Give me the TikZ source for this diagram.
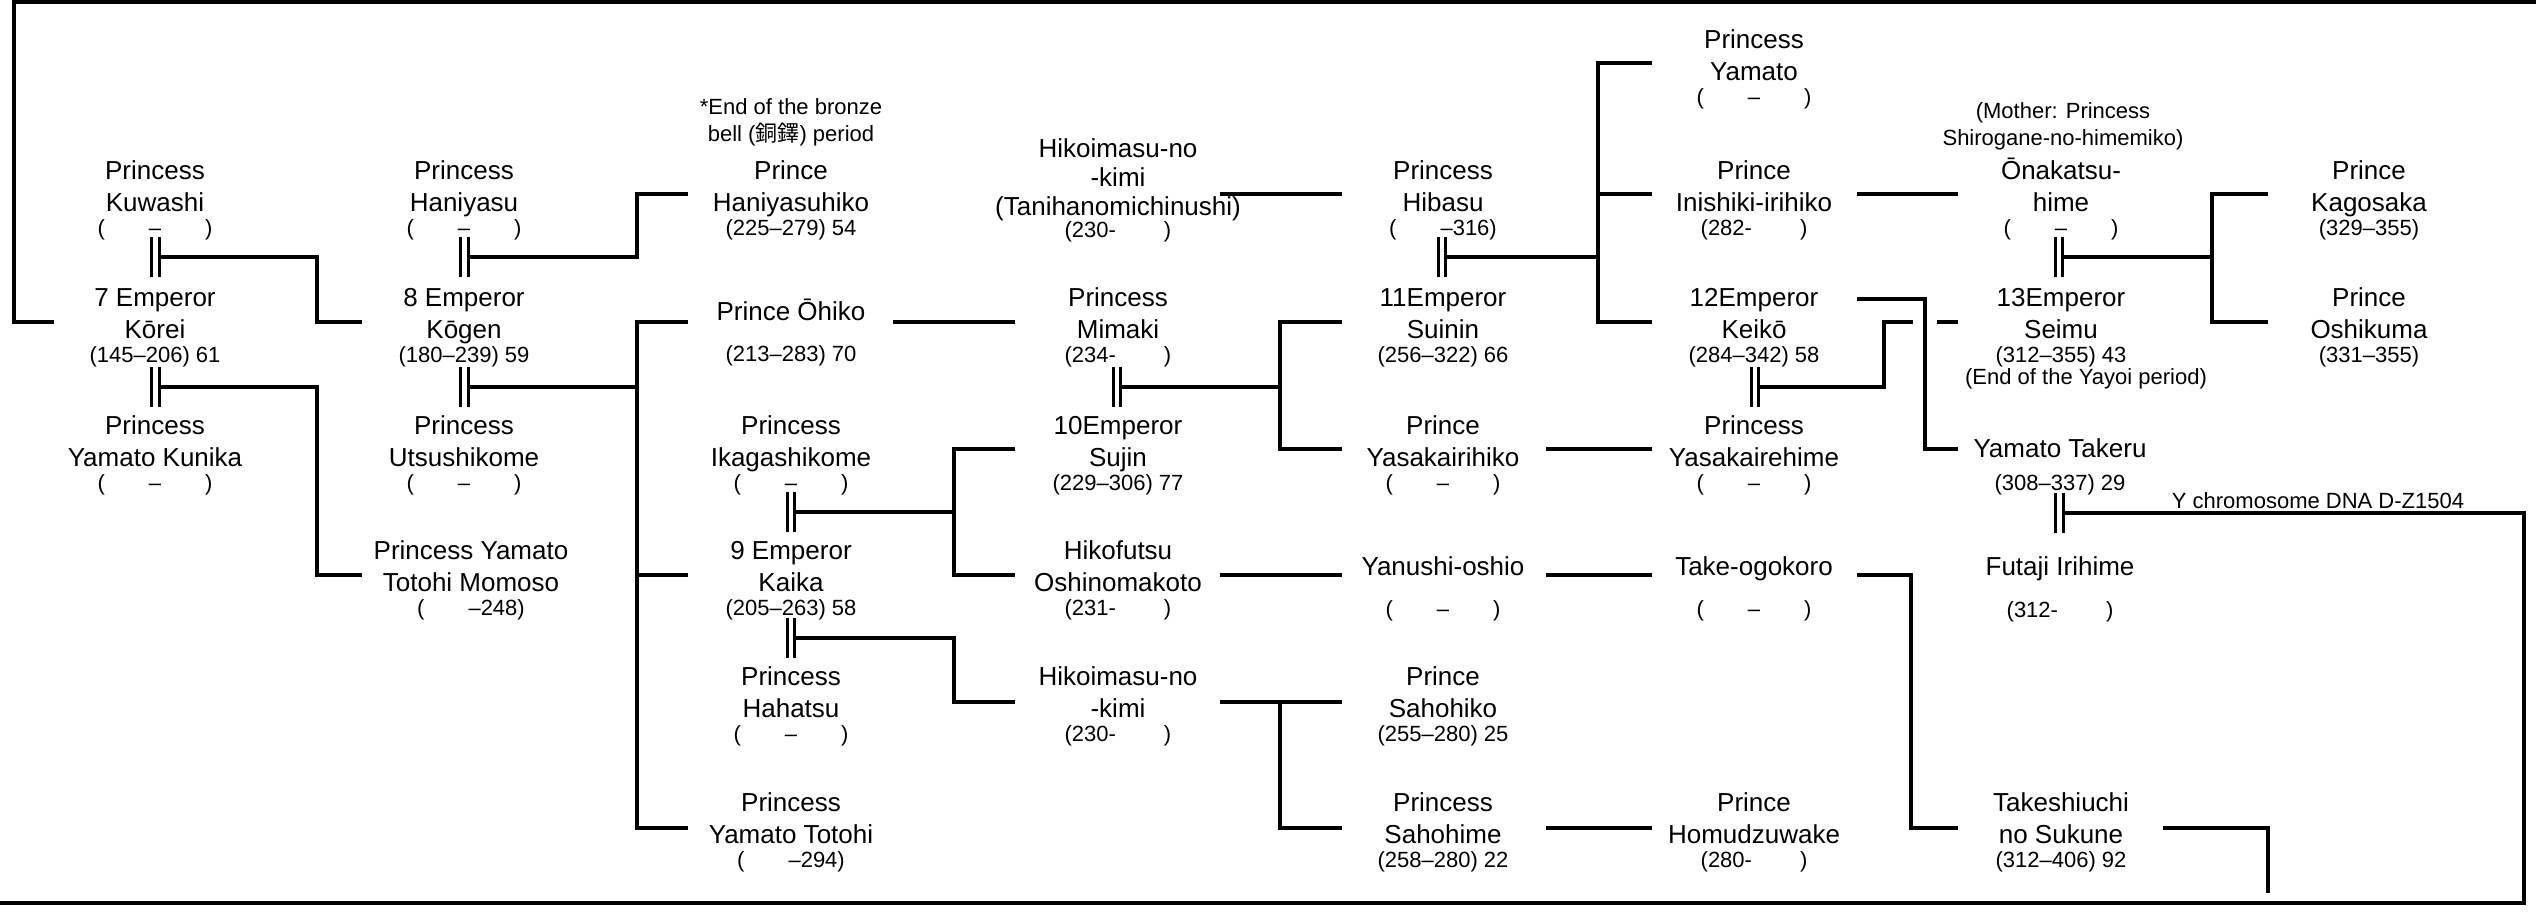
\documentclass[tikz,border=0pt]{standalone}
\usepackage{fontspec}
\setmainfont{Liberation Sans}
\newfontfamily\cjkfont{Noto Sans CJK JP}
\newcommand\nodates{(\hspace{44pt}–\hspace{44pt})}
\newcommand\famnode[6]{%
  \node[nm] (#1-a) at (#2,#3) {#4};
  \node[nm] (#1-b) at ({#2},{#3+32}) {#5};
  \node[yr] (#1-c) at ({#2},{#3+57}) {#6};}
\tikzset{
  wed/.pic={\draw[bar] (-3.75,-20) -- (-3.75,20) (3.75,-20) -- (3.75,20);}
}
\begin{document}
\begin{tikzpicture}[x=1pt,y=-1pt,
  nm/.style={font=\fontsize{26}{30}\selectfont, inner sep=0pt, text height=18.6pt, text depth=0pt},
  yr/.style={font=\fontsize{22}{26}\selectfont, inner sep=0pt, text height=16pt, text depth=0pt},
  ln/.style={line width=3.8pt},
  frame/.style={line width=4.2pt},
  bar/.style={line width=2.8pt}]
\useasboundingbox (0,0) rectangle (2536,913);

% ---------- people ----------
\famnode{kuwashi}{155}{170}{Princess}{Kuwashi}{\nodates}
\famnode{korei}{155}{297}{7 Emperor}{Kōrei}{(145–206) 61}
\famnode{kunika}{155}{425}{Princess}{Yamato Kunika}{\nodates}

\famnode{haniyasu}{464}{170}{Princess}{Haniyasu}{\nodates}
\famnode{kogen}{464}{297}{8 Emperor}{Kōgen}{(180–239) 59}
\famnode{utsushi}{464}{425}{Princess}{Utsushikome}{\nodates}
\famnode{momoso}{471}{550}{Princess Yamato}{Totohi Momoso}{(\hspace{44pt}–248)}

\node[yr] (bronze-a) at (791,106) {*End of the bronze};
\node[yr] (bronze-b) at (791,133) {bell ({\cjkfont 銅鐸}) period};
\famnode{hanihiko}{791}{170}{Prince}{Haniyasuhiko}{(225–279) 54}
\node[nm] (ohiko-a) at (791,311) {Prince Ōhiko};
\node[yr] (ohiko-c) at (791,353) {(213–283) 70};
\famnode{ikaga}{791}{425}{Princess}{Ikagashikome}{\nodates}
\famnode{kaika}{791}{550}{9 Emperor}{Kaika}{(205–263) 58}
\famnode{hahatsu}{791}{676}{Princess}{Hahatsu}{\nodates}
\famnode{totohi}{791}{802}{Princess}{Yamato Totohi}{(\hspace{44pt}–294)}

\node[nm] (hikoU-a) at (1118,148) {Hikoimasu-no};
\node[nm] (hikoU-b) at (1118,177) {-kimi};
\node[nm] (hikoU-d) at (1118,206) {(Tanihanomichinushi)};
\node[yr] (hikoU-c) at (1118,229) {(230-\hspace{48pt})};
\famnode{mimaki}{1118}{297}{Princess}{Mimaki}{(234-\hspace{48pt})}
\famnode{sujin}{1118}{425}{10Emperor}{Sujin}{(229–306) 77}
\famnode{hikofutsu}{1118}{550}{Hikofutsu}{Oshinomakoto}{(231-\hspace{48pt})}
\famnode{hikoL}{1118}{676}{Hikoimasu-no}{-kimi}{(230-\hspace{48pt})}

\famnode{hibasu}{1443}{170}{Princess}{Hibasu}{(\hspace{44pt}–316)}
\famnode{suinin}{1443}{297}{11Emperor}{Suinin}{(256–322) 66}
\famnode{yasakaM}{1443}{425}{Prince}{Yasakairihiko}{\nodates}
\node[nm] (yanushi-a) at (1443,566) {Yanushi-oshio};
\node[yr] (yanushi-c) at (1443,608) {\nodates};
\famnode{sahohiko}{1443}{676}{Prince}{Sahohiko}{(255–280) 25}
\famnode{sahohime}{1443}{802}{Princess}{Sahohime}{(258–280) 22}

\famnode{yamatoP}{1754}{39}{Princess}{Yamato}{\nodates}
\famnode{inishiki}{1754}{170}{Prince}{Inishiki-irihiko}{(282-\hspace{48pt})}
\famnode{keiko}{1754}{297}{12Emperor}{Keikō}{(284–342) 58}
\famnode{yasakaF}{1754}{425}{Princess}{Yasakairehime}{\nodates}
\node[nm] (take-a) at (1754,566) {Take-ogokoro};
\node[yr] (take-c) at (1754,608) {\nodates};
\famnode{homu}{1754}{802}{Prince}{Homudzuwake}{(280-\hspace{48pt})}

\node[yr] (mother-a) at (2063,110) {(Mother: Princess};
\node[yr] (mother-b) at (2063,137) {Shirogane-no-himemiko)};
\famnode{onaka}{2061}{170}{Ōnakatsu-}{hime}{\nodates}
\famnode{seimu}{2061}{297}{13Emperor}{Seimu}{(312–355) 43}
\node[yr] (yayoi) at (2086,376) {(End of the Yayoi period)};
\node[nm] (takeru-a) at (2060,448) {Yamato Takeru};
\node[yr] (takeru-c) at (2060,482) {(308–337) 29};
\node[yr] (dna) at (2318,500) {Y chromosome DNA D-Z1504};
\node[nm] (futaji-a) at (2060,566) {Futaji Irihime};
\node[yr] (futaji-c) at (2060,609) {(312-\hspace{48pt})};
\famnode{takeshi}{2061}{802}{Takeshiuchi}{no Sukune}{(312–406) 92}

\famnode{kago}{2369}{170}{Prince}{Kagosaka}{(329–355)}
\famnode{oshi}{2369}{297}{Prince}{Oshikuma}{(331–355)}

% ---------- connection points ----------
\coordinate (fr-tl) at (14,2);
\coordinate (fr-tr) at (2536,2);
\coordinate (fr-br) at (2524,903);
\coordinate (fr-bl) at (0,903);
\coordinate (korei-in) at (54,322);
\coordinate (kogen-in) at (362,322);
\coordinate (momoso-in) at (362,575);
\coordinate (hanihiko-in) at (688,194);
\coordinate (ohiko-in) at (688,322);
\coordinate (kaika-in) at (688,575);
\coordinate (totohi-in) at (688,828);
\coordinate (ohiko-out) at (893,322);
\coordinate (mimaki-in) at (1015,322);
\coordinate (sujin-in) at (1015,449);
\coordinate (hikofutsu-in) at (1015,575);
\coordinate (hikoL-in) at (1015,702);
\coordinate (hikoU-out) at (1220,194);
\coordinate (hibasu-in) at (1342,194);
\coordinate (suinin-in) at (1342,322);
\coordinate (yasakaM-in) at (1342,449);
\coordinate (hikofutsu-out) at (1220,575);
\coordinate (yanushi-in) at (1342,575);
\coordinate (hikoL-out) at (1220,702);
\coordinate (sahohiko-in) at (1342,702);
\coordinate (sahohime-in) at (1342,828);
\coordinate (yamatoP-in) at (1652,63);
\coordinate (inishiki-in) at (1652,194);
\coordinate (keiko-in) at (1652,322);
\coordinate (yasakaM-out) at (1546,449);
\coordinate (yasakaF-in) at (1652,449);
\coordinate (yanushi-out) at (1546,575);
\coordinate (take-in) at (1652,575);
\coordinate (sahohime-out) at (1546,828);
\coordinate (homu-in) at (1652,828);
\coordinate (inishiki-out) at (1857,194);
\coordinate (onaka-in) at (1958,194);
\coordinate (keiko-out) at (1857,299);
\coordinate (takeru-in) at (1958,449);
\coordinate (hopL) at (1913,322);
\coordinate (hopR) at (1937,322);
\coordinate (seimu-in) at (1958,322);
\coordinate (take-out) at (1857,575);
\coordinate (takeshi-in) at (1958,828);
\coordinate (kago-in) at (2268,194);
\coordinate (oshi-in) at (2268,322);
\coordinate (takeshi-out) at (2163,828);
\coordinate (takeshi-end) at (2268,893);

\coordinate (xA) at (317,0);
\coordinate (xB) at (637,0);
\coordinate (xC) at (954,0);
\coordinate (xD) at (1280,0);
\coordinate (xE) at (1598,0);
\coordinate (xF) at (1884,0);
\coordinate (xK) at (1925,0);
\coordinate (xT) at (1911,0);
\coordinate (xG) at (2212,0);

% marriages
\foreach \n/\x/\y in {1/155.5/257, 2/155.5/387, 3/464.5/257, 4/464.5/387,
  5/791/512, 6/791/638, 7/1117/387, 8/1442/257, 9/1755/387, 10/2059/257, 11/2059.5/513}{
  \coordinate (m\n) at (\x,\y);
  \coordinate (m\n r) at (\x+3.75,\y);
  \pic at (m\n) {wed};
}

% ---------- connectors ----------
\draw[frame] (korei-in) -| (fr-tl) -- (fr-tr);
\draw[frame] (m11r) -| (fr-br) -- (fr-bl);

\draw[ln] (m1r) -| (xA |- kogen-in) -- (kogen-in);
\draw[ln] (m2r) -| (xA |- momoso-in) -- (momoso-in);
\draw[ln] (m3r) -| (xB |- hanihiko-in) -- (hanihiko-in);
\draw[ln] (m4r) -- (xB |- m4r);
\draw[ln] (ohiko-in) -| (xB |- totohi-in) -- (totohi-in);
\draw[ln] (xB |- kaika-in) -- (kaika-in);
\draw[ln] (ohiko-out) -- (mimaki-in);
\draw[ln] (m5r) -- (xC |- m5r);
\draw[ln] (sujin-in) -| (xC |- hikofutsu-in) -- (hikofutsu-in);
\draw[ln] (m6r) -| (xC |- hikoL-in) -- (hikoL-in);
\draw[ln] (hikoU-out) -- (hibasu-in);
\draw[ln] (m7r) -- (xD |- m7r);
\draw[ln] (suinin-in) -| (xD |- yasakaM-in) -- (yasakaM-in);
\draw[ln] (hikofutsu-out) -- (yanushi-in);
\draw[ln] (hikoL-out) -- (sahohiko-in);
\draw[ln] (xD |- sahohiko-in) -- (xD |- sahohime-in) -- (sahohime-in);
\draw[ln] (m8r) -- (xE |- m8r);
\draw[ln] (yamatoP-in) -| (xE |- keiko-in) -- (keiko-in);
\draw[ln] (xE |- inishiki-in) -- (inishiki-in);
\draw[ln] (yasakaM-out) -- (yasakaF-in);
\draw[ln] (yanushi-out) -- (take-in);
\draw[ln] (sahohime-out) -- (homu-in);
\draw[ln] (inishiki-out) -- (onaka-in);
\draw[ln] (keiko-out) -| (xK |- takeru-in) -- (takeru-in);
\draw[ln] (m9r) -| (xF |- seimu-in) -- (hopL);
\draw[ln] (hopR) -- (seimu-in);
\draw[ln] (take-out) -| (xT |- takeshi-in) -- (takeshi-in);
\draw[ln] (m10r) -- (xG |- m10r);
\draw[ln] (kago-in) -| (xG |- oshi-in) -- (oshi-in);
\draw[ln] (takeshi-out) -| (takeshi-end);
\end{tikzpicture}
\end{document}
